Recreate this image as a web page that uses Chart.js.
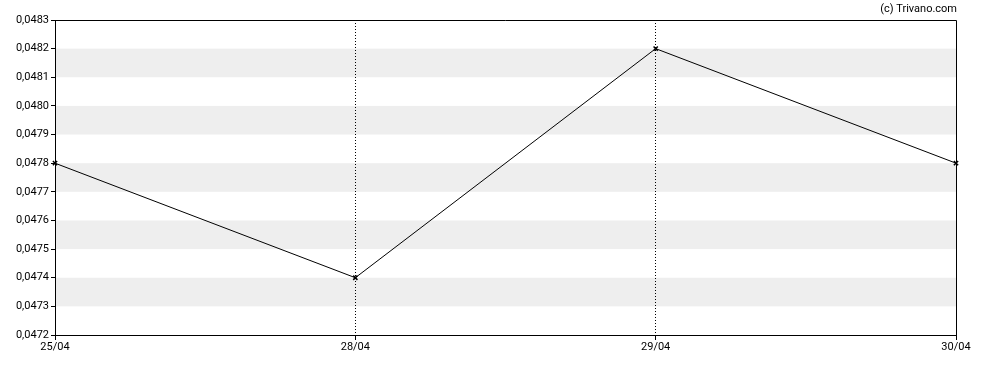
<!DOCTYPE html>
<html>
<head>
<meta charset="utf-8">
<script src="https://cdn.jsdelivr.net/npm/chart.js@4/dist/chart.umd.min.js"></script>
<style>
html,body{margin:0;padding:0;background:#fff;}
canvas{display:block;}
</style>
</head>
<body>
<canvas id="c" width="988" height="370"></canvas>
<script>
const categories = ['25/04', '28/04', '29/04', '30/04'];
const prices = [0.0478, 0.0474, 0.0482, 0.0478];
const yTicks = [0.0472, 0.0473, 0.0474, 0.0475, 0.0476, 0.0477, 0.0478, 0.0479, 0.0480, 0.0481, 0.0482, 0.0483];
const bands = [[0.0481, 0.0482], [0.0479, 0.0480], [0.0477, 0.0478], [0.0475, 0.0476], [0.0473, 0.0474]];
const credit = '(c) Trivano.com';

const FONT = {family: 'Roboto', size: 11};

const bgPlugin = {
  id: 'bg',
  beforeDraw(chart) {
    const {ctx, chartArea: a, scales: {y}} = chart;
    ctx.save();
    ctx.fillStyle = '#eeeeee';
    bands.forEach(([lo, hi]) => {
      const y1 = y.getPixelForValue(hi), y2 = y.getPixelForValue(lo);
      ctx.fillRect(a.left, y1, a.right - a.left, y2 - y1);
    });
    ctx.restore();
  },
  afterDraw(chart) {
    const {ctx, chartArea: a} = chart;
    ctx.save();
    ctx.strokeStyle = '#000';
    ctx.lineWidth = 1;
    ctx.beginPath();
    ctx.moveTo(a.left, a.top + 0.5);
    ctx.lineTo(a.right + 0.5, a.top + 0.5);
    ctx.lineTo(a.right + 0.5, a.bottom);
    ctx.stroke();
    ctx.fillStyle = '#000';
    ctx.font = '11px Roboto';
    ctx.textAlign = 'right';
    ctx.textBaseline = 'middle';
    ctx.fillText(credit, a.right + 1, 9);
    ctx.restore();
  }
};

new Chart(document.getElementById('c'), {
  type: 'line',
  data: {
    labels: categories,
    datasets: [{
      data: prices,
      borderColor: '#000',
      borderWidth: 1,
      pointStyle: 'crossRot',
      pointRadius: 3,
      pointBorderColor: '#000',
      pointBorderWidth: 1.5,
      tension: 0,
      fill: false
    }]
  },
  options: {
    responsive: false,
    animation: false,
    layout: {padding: {top: 20, right: 32, left: 0, bottom: 0}},
    plugins: {legend: {display: false}, tooltip: {enabled: false}},
    scales: {
      x: {
        type: 'category',
        offset: false,
        grid: {
          color: (c) => (c.index === 0 || c.index === categories.length - 1) ? 'rgba(0,0,0,0)' : '#000',
          lineWidth: 1,
          drawTicks: true,
          tickLength: 5,
          tickColor: '#000'
        },
        border: {display: true, color: '#000', width: 1, dash: [1, 2]},
        ticks: {font: FONT, color: '#000', padding: 1, maxRotation: 0, autoSkip: false},
        afterFit(s) { s.height = 35; }
      },
      y: {
        min: 0.0472,
        max: 0.0483,
        afterBuildTicks(s) { s.ticks = yTicks.map(v => ({value: v})); },
        grid: {drawOnChartArea: false, drawTicks: true, tickLength: 4, tickColor: '#000'},
        border: {display: true, color: '#000', width: 1},
        ticks: {
          font: FONT, color: '#000', padding: 2,
          callback: (v) => Number(v).toFixed(4).replace('.', ',')
        },
        afterFit(s) { s.width = 55; }
      }
    }
  },
  plugins: [bgPlugin]
});
</script>
</body>
</html>
